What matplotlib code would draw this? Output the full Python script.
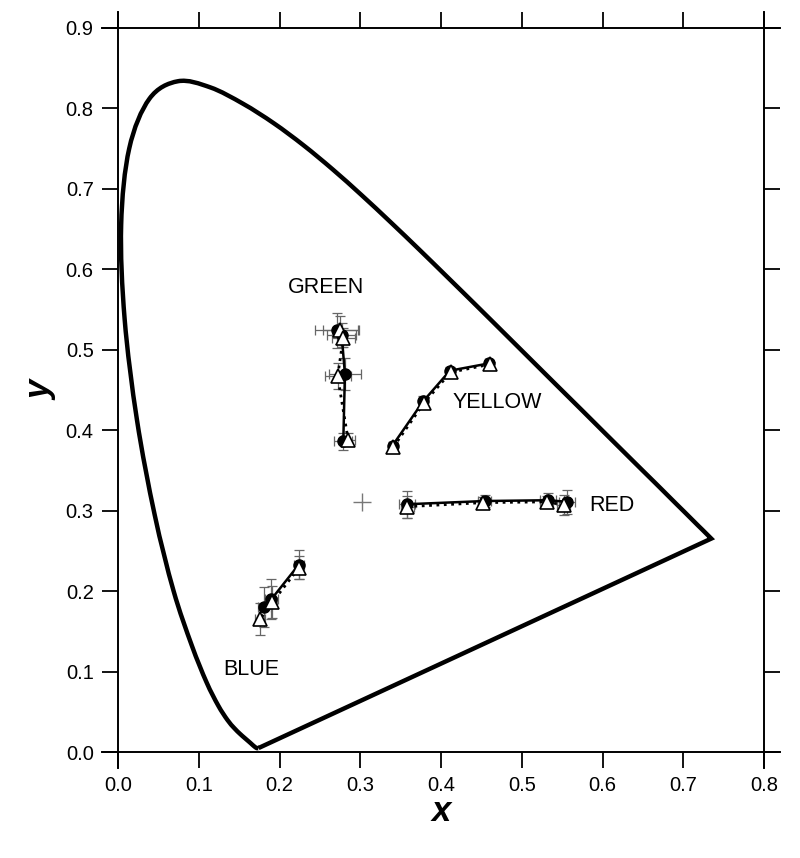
import numpy as np
import matplotlib
matplotlib.use("Agg")
import matplotlib.pyplot as plt
from matplotlib.path import Path
from matplotlib.patches import PathPatch

plt.rcParams['font.family'] = ['Liberation Sans', 'DejaVu Sans']

# CIE 1931 spectral locus, 380-700 nm every 5 nm
locus_x = [0.1741, 0.1740, 0.1738, 0.1736, 0.1733, 0.1730, 0.1726, 0.1721, 0.1714, 0.1703,
           0.1689, 0.1669, 0.1644, 0.1611, 0.1566, 0.1510, 0.1440, 0.1355, 0.1241, 0.1096,
           0.0913, 0.0687, 0.0454, 0.0235, 0.0082, 0.0039, 0.0139, 0.0389, 0.0743, 0.1142,
           0.1547, 0.1929, 0.2296, 0.2658, 0.3016, 0.3373, 0.3731, 0.4087, 0.4441, 0.4788,
           0.5125, 0.5448, 0.5752, 0.6029, 0.6270, 0.6482, 0.6658, 0.6801, 0.6915, 0.7006,
           0.7079, 0.7140, 0.7190, 0.7230, 0.7260, 0.7283, 0.7300, 0.7311, 0.7320, 0.7327,
           0.7334, 0.7340, 0.7344, 0.7346, 0.7347]
locus_y = [0.0050, 0.0050, 0.0049, 0.0049, 0.0048, 0.0048, 0.0048, 0.0048, 0.0051, 0.0058,
           0.0069, 0.0086, 0.0109, 0.0138, 0.0177, 0.0227, 0.0297, 0.0399, 0.0578, 0.0868,
           0.1327, 0.2007, 0.2950, 0.4127, 0.5384, 0.6548, 0.7502, 0.8120, 0.8338, 0.8262,
           0.8059, 0.7816, 0.7543, 0.7243, 0.6923, 0.6589, 0.6245, 0.5896, 0.5547, 0.5202,
           0.4866, 0.4544, 0.4242, 0.3965, 0.3725, 0.3514, 0.3340, 0.3197, 0.3083, 0.2993,
           0.2920, 0.2859, 0.2809, 0.2770, 0.2740, 0.2717, 0.2700, 0.2689, 0.2680, 0.2673,
           0.2666, 0.2660, 0.2656, 0.2654, 0.2653]

# measured chromaticities: circles (series A) and triangles (series B)
green_cx = [0.271, 0.277, 0.281, 0.279]
green_cy = [0.524, 0.518, 0.470, 0.386]
green_tx = [0.275, 0.279, 0.272, 0.285]
green_ty = [0.525, 0.515, 0.467, 0.388]
green_xerr = [0.027, 0.018, 0.020, 0.011]
green_yerr = [0.022, 0.015, 0.020, 0.010]

yellow_cx = [0.340, 0.378, 0.411, 0.459]
yellow_cy = [0.381, 0.436, 0.474, 0.483]
yellow_tx = [0.341, 0.379, 0.412, 0.461]
yellow_ty = [0.379, 0.434, 0.472, 0.482]
yellow_xerr = [0.004, 0.005, 0.004, 0.004]
yellow_yerr = [0.004, 0.006, 0.004, 0.004]

red_cx = [0.358, 0.454, 0.533, 0.556]
red_cy = [0.308, 0.312, 0.313, 0.311]
red_tx = [0.358, 0.452, 0.531, 0.552]
red_ty = [0.305, 0.310, 0.311, 0.307]
red_xerr = [0.010, 0.008, 0.010, 0.010]
red_yerr = [0.017, 0.008, 0.009, 0.015]

blue_cx = [0.224, 0.190, 0.181]
blue_cy = [0.233, 0.190, 0.180]
blue_tx = [0.224, 0.191, 0.176]
blue_ty = [0.229, 0.186, 0.165]
blue_xerr = [0.006, 0.008, 0.008]
blue_yerr = [0.018, 0.025, 0.025]

white_x, white_y = 0.302, 0.311

labels = ["GREEN", "YELLOW", "RED", "BLUE"]
label_x = [0.258, 0.470, 0.612, 0.165]
label_y = [0.577, 0.435, 0.307, 0.102]


def smooth_path(xs, ys):
    # Catmull-Rom through the locus points, drawn as cubic Bezier segments
    p = np.column_stack([xs, ys])
    verts = [p[0]]
    codes = [Path.MOVETO]
    n = len(p)
    for i in range(n - 1):
        p0 = p[max(i - 1, 0)]
        p1 = p[i]
        p2 = p[i + 1]
        p3 = p[min(i + 2, n - 1)]
        verts += [p1 + (p2 - p0) / 6, p2 - (p3 - p1) / 6, p2]
        codes += [Path.CURVE4] * 3
    verts.append(p[0])
    codes.append(Path.LINETO)
    return Path(verts, codes)


fig = plt.figure(figsize=(8, 8.58), dpi=100)
ax = fig.add_axes([0.1475, 0.1235, 0.8075, 0.8439])

ax.add_patch(PathPatch(smooth_path(locus_x, locus_y), fill=False, ec='black', lw=3.2,
                       joinstyle='miter'))

groups = [
    (green_cx, green_cy, green_tx, green_ty, green_xerr, green_yerr),
    (yellow_cx, yellow_cy, yellow_tx, yellow_ty, yellow_xerr, yellow_yerr),
    (red_cx, red_cy, red_tx, red_ty, red_xerr, red_yerr),
    (blue_cx, blue_cy, blue_tx, blue_ty, blue_xerr, blue_yerr),
]
for cx, cy, tx, ty, xe, ye in groups:
    ax.errorbar(cx, cy, xerr=xe, yerr=ye, fmt='none', ecolor='#666666',
                elinewidth=0.9, capsize=3.5, capthick=0.9, zorder=2)
    ax.errorbar(tx, ty, xerr=np.array(xe) * 0.8, yerr=np.array(ye) * 0.8, fmt='none',
                ecolor='#666666', elinewidth=0.9, capsize=3.5, capthick=0.9, zorder=2)
    ax.plot(cx, cy, '-o', color='black', lw=1.8, ms=8, zorder=3)
    ax.plot(tx, ty, ':^', color='black', lw=2, ms=9.5, mfc='white', mec='black',
            mew=1.2, zorder=4)

ax.plot(white_x, white_y, '+', color='#777777', ms=13, mew=1)

for t, lx, ly in zip(labels, label_x, label_y):
    ax.text(lx, ly, t, fontsize=15.5, ha='center', va='center')

ax.set_xlim(0, 0.8)
ax.set_ylim(0, 0.9)
ax.set_xticks(np.arange(0, 0.81, 0.1))
ax.set_yticks(np.arange(0, 0.91, 0.1))
ax.set_xticklabels([f"{v:.1f}" for v in np.arange(0, 0.81, 0.1)])
ax.set_yticklabels([f"{v:.1f}" for v in np.arange(0, 0.91, 0.1)])
ax.tick_params(direction='out', length=11.5, width=1.3, labelsize=14.5, pad=6,
               top=True, right=True, labeltop=False, labelright=False)

for s in ax.spines.values():
    s.set_visible(False)
ex, ey = 0.0248, 0.0221
frame = dict(color='black', lw=1.4, transform=ax.transAxes, clip_on=False)
ax.plot([-ex, 1 + ex], [0, 0], **frame)
ax.plot([-ex, 1 + ex], [1, 1], **frame)
ax.plot([0, 0], [-ey, 1 + ey], **frame)
ax.plot([1, 1], [-ey, 1 + ey], **frame)

ax.set_xlabel('x', fontsize=25, fontweight='bold', fontstyle='italic', labelpad=0)
ax.set_ylabel('y', fontsize=25, fontweight='bold', fontstyle='italic', labelpad=6)

fig.savefig('out.png', dpi=100, facecolor='white')
